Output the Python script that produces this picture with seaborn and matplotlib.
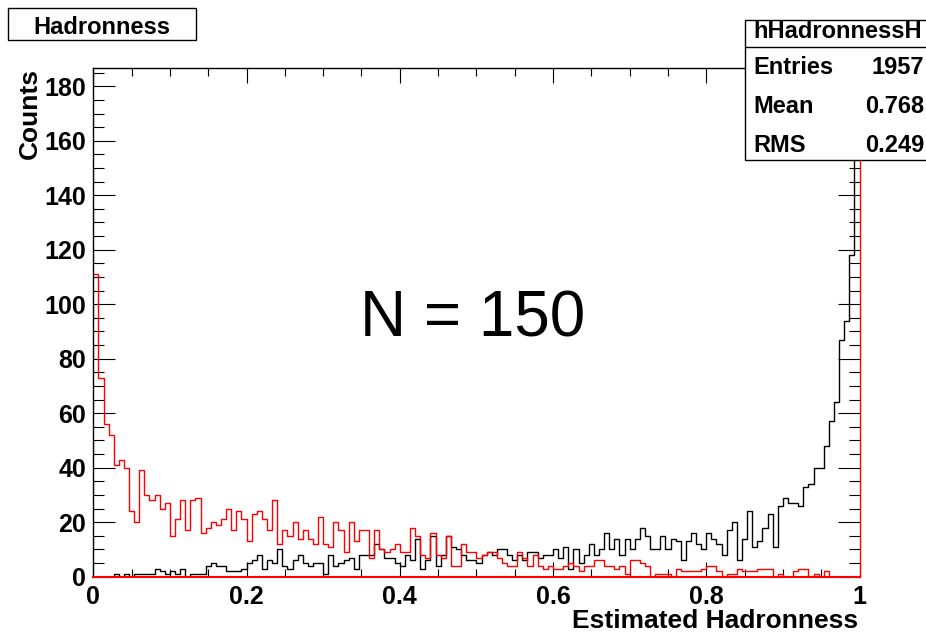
import numpy as np
import pandas as pd
import seaborn as sns
import matplotlib.pyplot as plt
from matplotlib.patches import Rectangle
from matplotlib.lines import Line2D
from matplotlib.ticker import MultipleLocator

# 150 bins on [0, 1], counts
red_counts = [111, 73, 56, 52, 41, 43, 40, 24, 20, 39,
              30, 28, 30, 25, 27, 15, 21, 28, 17, 28,
              29, 16, 18, 20, 19, 21, 25, 17, 24, 21,
              13, 23, 24, 21, 17, 28, 12, 17, 15, 20,
              14, 17, 14, 12, 22, 12, 11, 20, 17, 9,
              20, 13, 17, 17, 7, 17, 10, 9, 10, 12,
              9, 9, 18, 15, 8, 7, 16, 8, 7, 15,
              4, 4, 12, 9, 9, 7, 8, 9, 9, 7,
              5, 4, 4, 9, 7, 4, 8, 4, 3, 4,
              3, 3, 4, 5, 4, 2, 4, 4, 6, 6,
              4, 4, 3, 4, 1, 6, 6, 5, 4, 0,
              1, 1, 1, 0, 3, 2, 2, 2, 2, 3,
              4, 4, 2, 0, 1, 1, 3, 2, 2, 2,
              3, 3, 3, 0, 1, 0, 0, 2, 3, 3,
              0, 1, 0, 2, 0, 0, 0, 0, 0, 0]

black_counts = [0, 0, 0, 0, 1, 0, 1, 0, 1, 1,
                1, 1, 3, 2, 1, 2, 1, 3, 0, 1,
                1, 1, 4, 5, 4, 4, 2, 2, 2, 3,
                5, 6, 8, 3, 6, 5, 10, 4, 3, 6,
                8, 5, 4, 5, 5, 1, 8, 4, 5, 6,
                7, 3, 8, 8, 8, 12, 10, 7, 7, 5,
                4, 8, 6, 14, 3, 6, 15, 4, 8, 15,
                11, 10, 8, 6, 6, 5, 8, 9, 8, 10,
                10, 8, 6, 8, 6, 9, 9, 7, 8, 8,
                10, 7, 11, 3, 10, 5, 8, 12, 8, 10,
                16, 10, 14, 8, 14, 10, 14, 18, 15, 10,
                10, 15, 10, 14, 13, 6, 13, 16, 12, 10,
                16, 14, 12, 8, 17, 20, 6, 14, 24, 11,
                13, 18, 23, 11, 26, 29, 27, 27, 26, 33,
                34, 40, 40, 48, 57, 64, 87, 94, 118, 300]

x_ticks = [0, 0.2, 0.4, 0.6, 0.8, 1]
x_tick_labels = ["0", "0.2", "0.4", "0.6", "0.8", "1"]
y_ticks = [0, 20, 40, 60, 80, 100, 120, 140, 160, 180]

stats_names = ["Entries", "Mean", "RMS"]
stats_values = ["1957", "0.768", "0.249"]

n_bins = len(red_counts)
edges = np.linspace(0, 1, n_bins + 1)
df = pd.DataFrame({
    "x": (edges[:-1] + edges[1:]) / 2,
    "black": black_counts,
    "red": red_counts,
})

sns.set_style("ticks")
plt.rcParams['font.family'] = ['Liberation Sans', 'DejaVu Sans']
plt.rcParams['text.color'] = 'black'
plt.rcParams['axes.labelcolor'] = 'black'
plt.rcParams['xtick.color'] = 'black'
plt.rcParams['ytick.color'] = 'black'

W, H = 926, 634
fig = plt.figure(figsize=(W / 100, H / 100), dpi=100)
ax = fig.add_axes([93.3 / W, 1 - 576.7 / H, (859.5 - 93.3) / W, (576.7 - 68) / H])

sns.histplot(data=df, x="x", weights="black", bins=n_bins, binrange=(0, 1), element="step",
             fill=False, color="black", linewidth=1.0, ax=ax)
sns.histplot(data=df, x="x", weights="red", bins=n_bins, binrange=(0, 1), element="step",
             fill=False, color="#ff0000", linewidth=1.0, ax=ax)

ax.set_xlim(0, 1)
ax.set_ylim(0, 186.7)
ax.set_xticks(x_ticks)
ax.set_xticklabels(x_tick_labels)
ax.set_yticks(y_ticks)
ax.xaxis.set_minor_locator(MultipleLocator(0.05))
ax.yaxis.set_minor_locator(MultipleLocator(5))
ax.tick_params(which='both', direction='in', top=True, right=True, width=0.8, color='black')
ax.tick_params(axis='x', which='major', length=11, pad=6)
ax.tick_params(axis='x', which='minor', length=6)
ax.tick_params(axis='y', which='major', length=16, pad=5)
ax.tick_params(axis='y', which='minor', length=8)
for lab in ax.get_xticklabels() + ax.get_yticklabels():
    lab.set_fontsize(18)
    lab.set_fontweight('bold')
    lab.set_color('black')

for s in ax.spines.values():
    s.set_linewidth(1.0)
    s.set_color('black')
ax.spines['right'].set_color('#ff0000')
ax.spines['bottom'].set_color('#ff0000')
ax.spines['bottom'].set_linewidth(1.5)

ax.set_xlabel("")
ax.set_ylabel("")
fig.text(858 / W, 1 - 621 / H, "Estimated Hadronness", ha='right', va='center',
         fontsize=19, fontweight='bold', color='black')
fig.text(30 / W, 1 - 68 / H, "Counts", ha='center', va='top', rotation=90,
         fontsize=19, fontweight='bold', color='black')

ax.text(0.495, 0.505, "N = 150", transform=ax.transAxes, ha='center', va='center',
        fontsize=46, color='black')

# title box
fig.patches.append(Rectangle((8 / W, 1 - 40 / H), 188 / W, 32 / H, transform=fig.transFigure,
                             facecolor='white', edgecolor='black', linewidth=1.0, zorder=10))
fig.text(102 / W, 1 - 27 / H, "Hadronness", ha='center', va='center',
         fontsize=17, fontweight='bold', color='black', zorder=11)

# stats box
fig.patches.append(Rectangle((745 / W, 1 - 160 / H), 200 / W, 140 / H, transform=fig.transFigure,
                             facecolor='white', edgecolor='black', linewidth=1.0, zorder=10))
fig.lines.append(Line2D([745 / W, 1], [1 - 47 / H, 1 - 47 / H], transform=fig.transFigure,
                        color='black', linewidth=1.0, zorder=11))
fig.text(753 / W, 1 - 32 / H, "hHadronnessH", ha='left', va='center',
         fontsize=17, fontweight='bold', color='black', zorder=11)
for i, (name, val) in enumerate(zip(stats_names, stats_values)):
    yy = 1 - (68 + 38.5 * i) / H
    fig.text(753 / W, yy, name, ha='left', va='center', fontsize=17, fontweight='bold',
             color='black', zorder=11)
    fig.text(924 / W, yy, val, ha='right', va='center', fontsize=17, fontweight='bold',
             color='black', zorder=11)

fig.savefig("out.png", dpi=100)
